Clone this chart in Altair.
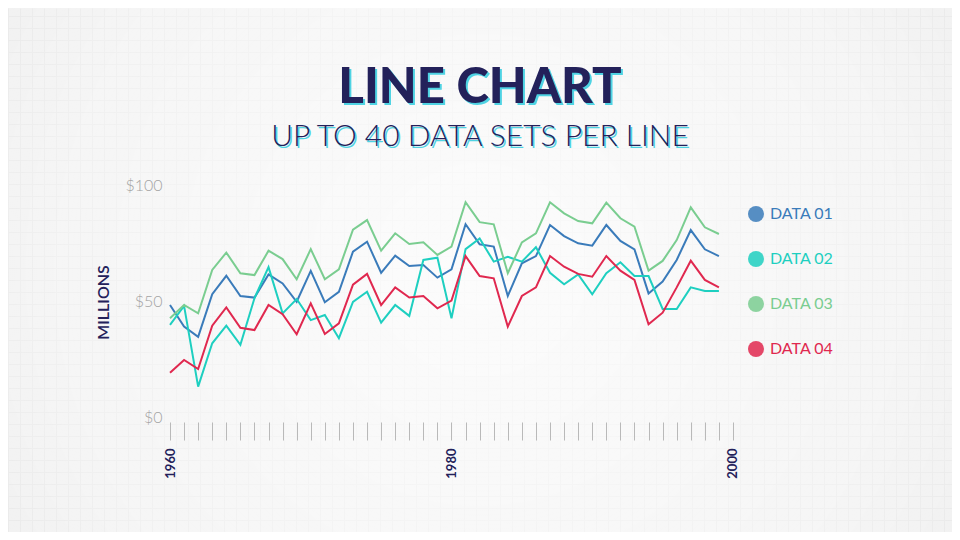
import altair as alt
import pandas as pd

# ---------------- data ----------------
years = list(range(1960, 2000))
series_names = ["DATA 01", "DATA 02", "DATA 03", "DATA 04"]

data01 = [48.7, 39.4, 35.0, 53.4, 61.3, 52.6, 51.9, 61.9, 58.0, 50.1,
          63.4, 49.9, 54.4, 71.7, 76.0, 62.6, 70.0, 65.5, 65.9, 60.5,
          64.1, 83.5, 74.9, 73.9, 52.6, 66.7, 69.8, 83.2, 78.4, 75.3,
          74.3, 83.2, 76.3, 72.7, 53.7, 58.8, 68.1, 81.0, 72.7, 69.8]
data02 = [40.1, 48.3, 13.5, 32.2, 39.8, 31.5, 51.6, 65.0, 45.1, 51.3,
          42.2, 44.4, 34.4, 50.0, 54.4, 41.1, 48.7, 44.0, 68.1, 69.1,
          43.0, 72.8, 77.4, 67.4, 69.5, 67.4, 73.6, 62.6, 57.6, 61.9,
          53.3, 62.4, 67.1, 61.2, 61.2, 47.0, 47.0, 56.3, 54.7, 54.7]
data03 = [43.0, 48.7, 45.1, 63.8, 71.3, 62.4, 61.6, 72.1, 68.5, 59.8,
          72.8, 59.8, 64.1, 81.2, 85.3, 72.1, 79.6, 75.0, 75.7, 70.3,
          73.9, 93.0, 84.4, 83.5, 62.4, 75.7, 79.6, 93.0, 88.2, 84.9,
          83.9, 92.8, 86.1, 82.5, 63.5, 67.7, 76.7, 90.8, 82.2, 79.3]
data04 = [19.5, 25.0, 21.1, 39.8, 47.7, 38.9, 37.9, 48.7, 44.7, 36.1,
          49.4, 36.2, 40.8, 57.5, 62.1, 48.7, 56.3, 51.9, 52.6, 47.3,
          50.6, 69.8, 61.2, 60.2, 39.4, 52.6, 56.3, 69.8, 65.2, 62.1,
          60.9, 69.8, 63.5, 59.5, 40.4, 45.4, 56.3, 67.8, 59.5, 56.3]

y_ticks = [0, 50, 100]
x_tick_years = list(range(1960, 2001))
title_text = "LINE CHART"
subtitle_text = "UP TO 40 DATA SETS PER LINE"
y_title = "MILLIONS"

# ---------------- styles ----------------
series_colors = ["#3a7bba", "#1ecfc0", "#7acd90", "#e0284f"]
NAVY = "#23215a"
SHADOW = "#4fd3e3"
W, H = 944, 524

rows = []
for name, vals in zip(series_names, [data01, data02, data03, data04]):
    for yr, v in zip(years, vals):
        rows.append({"year": yr, "value": v, "series": name})
df = pd.DataFrame(rows)

# ---------------- background grid ----------------
grid_df = pd.DataFrame({"gx": [0, W], "gy": [0, H]})
grid = alt.Chart(grid_df).mark_point(opacity=0).encode(
    x=alt.X("gx:Q", scale=alt.Scale(domain=[0, W], nice=False, zero=False),
            axis=alt.Axis(orient="top", values=list(range(0, W + 1, 12)), grid=True,
                          gridColor="#e2e2e2", gridWidth=1, ticks=False, labels=False,
                          domain=False, title=None)),
    y=alt.Y("gy:Q", scale=alt.Scale(domain=[0, H], nice=False, zero=False),
            axis=alt.Axis(orient="right", values=list(range(0, H + 1, 12)), grid=True,
                          gridColor="#e2e2e2", gridWidth=1, ticks=False, labels=False,
                          domain=False, title=None)),
)

vignette = alt.Chart(alt.Data(values=[{"k": 0}])).mark_rect(
    fill={
        "gradient": "radial",
        "x1": 0.5, "y1": 0.5, "r1": 0,
        "x2": 0.5, "y2": 0.5, "r2": 0.75,
        "stops": [
            {"offset": 0, "color": "rgba(255,255,255,0.85)"},
            {"offset": 0.6, "color": "rgba(255,255,255,0.5)"},
            {"offset": 1, "color": "rgba(255,255,255,0)"},
        ],
    }
).encode(x=alt.value(0), x2=alt.value(W), y=alt.value(0), y2=alt.value(H))

# ---------------- lines ----------------
x_scale = alt.Scale(domain=[1948.49, 2015.56], nice=False, zero=False)
y_scale = alt.Scale(domain=[-49.14, 176.72], nice=False, zero=False)

lines = alt.Chart(df).mark_line(strokeWidth=2).encode(
    x=alt.X("year:Q", scale=x_scale,
            axis=alt.Axis(orient="bottom", offset=-110, values=x_tick_years,
                          tickSize=18, tickColor="#b9b9b9", tickWidth=1,
                          domain=False, grid=False, labelAngle=270,
                          labelAlign="right", labelBaseline="middle", labelPadding=8,
                          labelFont="Lato", labelFontWeight="bold", labelFontSize=13,
                          labelColor=NAVY, labelOverlap=False, labelFlush=False,
                          labelExpr="datum.value % 20 === 0 ? format(datum.value, 'd') : ''",
                          zindex=1, title=None)),
    y=alt.Y("value:Q", scale=y_scale,
            axis=alt.Axis(orient="left", offset=-156, values=y_ticks, ticks=False,
                          domain=False, grid=False, labelExpr="'$' + datum.value",
                          labelColor="#a3a3a3", labelFont="Lato", labelFontWeight=300,
                          labelFontSize=16, labelPadding=2, labelBaseline="middle",
                          zindex=1,
                          title=y_title, titleX=-61, titleY=294, titleAngle=270,
                          titleAlign="center", titleBaseline="middle", titleFont="Lato",
                          titleFontSize=16, titleFontWeight=600, titleColor=NAVY)),
    color=alt.Color("series:N",
                    scale=alt.Scale(domain=series_names, range=series_colors),
                    legend=alt.Legend(orient="none", legendX=740, legendY=198,
                                      title=None, symbolType="circle", symbolSize=256,
                                      symbolStrokeWidth=0, symbolOpacity=0.85,
                                      symbolFillColor=alt.ExprRef("scale('color', datum.value)"),
                                      labelFont="Lato", labelFontSize=16,
                                      labelColor=alt.ExprRef("scale('color', datum.value)"),
                                      rowPadding=29, labelOffset=6, padding=0)),
    detail="series:N",
)


def txt(text, x, y, size, weight, color):
    return alt.Chart(alt.Data(values=[{"t": text}])).mark_text(
        font="Lato", fontSize=size, fontWeight=weight, color=color,
        align="center", baseline="alphabetic"
    ).encode(text="t:N", x=alt.value(x), y=alt.value(y))


title_shadow = txt(title_text, 474, 97, 49, 900, SHADOW)
title_main = txt(title_text, 472, 95, 49, 900, NAVY)
sub_shadow = txt(subtitle_text, 473.5, 139.5, 30, 300, SHADOW)
sub_main = txt(subtitle_text, 472, 138, 30, 300, NAVY)

chart = alt.layer(
    grid, vignette, lines, title_shadow, title_main, sub_shadow, sub_main
).resolve_scale(
    x="independent", y="independent"
).properties(
    width=W, height=H, padding=0, background="#ececec",
    autosize=alt.AutoSizeParams(type="none")
).configure_view(strokeWidth=0)

chart.save("out.html", embed_options={"renderer": "svg", "actions": False})
